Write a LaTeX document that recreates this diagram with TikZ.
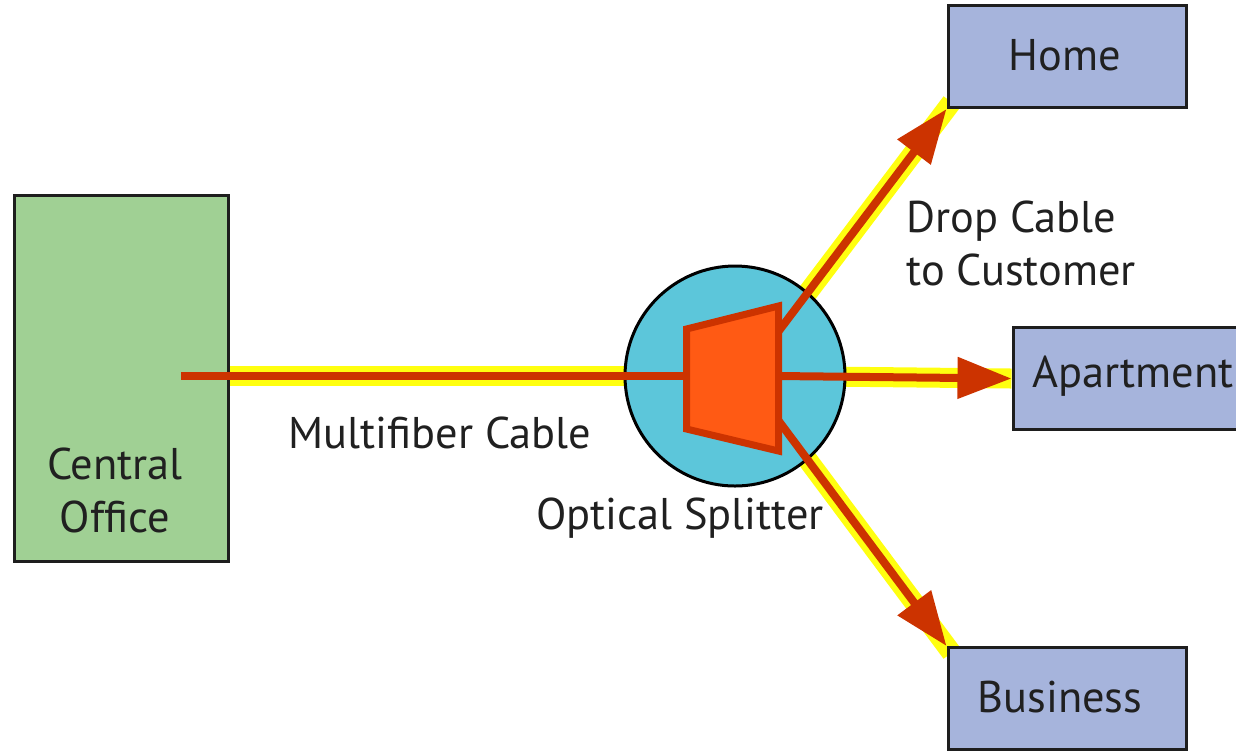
\documentclass[tikz,border=0pt]{standalone}
\usepackage{fontspec}
\setmainfont{PT Sans}
\usetikzlibrary{arrows.meta,calc}
\definecolor{cogreen}{HTML}{A0D094}
\definecolor{destblue}{HTML}{A6B4DC}
\definecolor{splitblue}{HTML}{5CC6DA}
\definecolor{boxline}{HTML}{1E1E1E}
\definecolor{glowyellow}{HTML}{FFFF10}
\definecolor{fiberred}{HTML}{CC3300}
\definecolor{trapfill}{HTML}{FF5A14}
\definecolor{textgray}{HTML}{202020}
\pgfdeclarelayer{bg}
\pgfsetlayers{bg,main}
\begin{document}
\begin{tikzpicture}[x=0.5pt,y=-0.5pt,
  font=\fontsize{22.2}{26.5}\selectfont,
  box/.style={draw=boxline, line width=1.5pt, inner sep=0pt},
  cobox/.style={box, fill=cogreen, minimum width=107pt, minimum height=183pt},
  dest/.style={box, fill=destblue, minimum width=119pt, minimum height=51pt},
  glow/.style={draw=glowyellow, line width=10pt},
  fiber/.style={draw=fiberred, line width=4pt},
  fiberarrow/.style={fiber, -{Triangle[length=27pt,width=20pt]}},
  lbl/.style={text=textgray, inner sep=0pt}]
\useasboundingbox (0,0) rectangle (1236,752);
\clip (0,0) rectangle (1236,752);
% boxes
\node[cobox] (co) at (121,378) {};
\node[dest] (home) at (1067,56.5) {};
\node[dest, minimum width=124pt] (apt) at (1137,378.5) {};
\node[dest] (bus) at (1067,698.5) {};
% splitter geometry
\coordinate (splc) at (735,376);
\coordinate (tl) at (686.5,329);
\coordinate (tr) at (778.5,306);
\coordinate (br) at (778.5,451);
\coordinate (bl) at (686.5,429);
\coordinate (oh) at (778,332);
\coordinate (oa) at (778,376);
\coordinate (ob) at (778,420);
\coordinate (cofeed) at (181,376);
% glows
\begin{pgfonlayer}{bg}
  \draw[glow] (co.east |- splc) -- (splc);
  \draw[glow] (oh) -- ($(oh)!1.03!(home.south west)$);
  \draw[glow] (oa) -- (apt.west);
  \draw[glow] (ob) -- ($(ob)!1.03!(bus.north west)$);
\end{pgfonlayer}
% splitter circle
\node[circle, draw=black, line width=1.5pt, fill=splitblue, minimum size=110pt, inner sep=0pt] (spl) at (splc) {};
% fibers
\draw[fiber] (cofeed) -- (tl |- splc);
\draw[fiberarrow] (oh) -- (home.south west);
\draw[fiberarrow] (oa) -- (apt.west);
\draw[fiberarrow] (ob) -- (bus.north west);
% trapezoid
\draw[draw=fiberred, fill=trapfill, line width=3.5pt, line join=miter] (tl) -- (tr) -- (br) -- (bl) -- cycle;
% labels
\node[lbl, align=center] (colbl) at (115,490) {Central\\Office};
\node[lbl] (mflbl) at (440,433) {Multifiber Cable};
\node[lbl] (oslbl) at (680,518) {Optical Splitter};
\node[lbl, align=left, anchor=west] (droplbl) at (906,243) {Drop Cable\\to Customer};
\node[lbl] (homelbl) at (1065,55) {Home};
\node[lbl, anchor=west] (aptlbl) at (1032,376) {Apartment};
\node[lbl] (buslbl) at (1060,697) {Business};
\end{tikzpicture}
\end{document}
